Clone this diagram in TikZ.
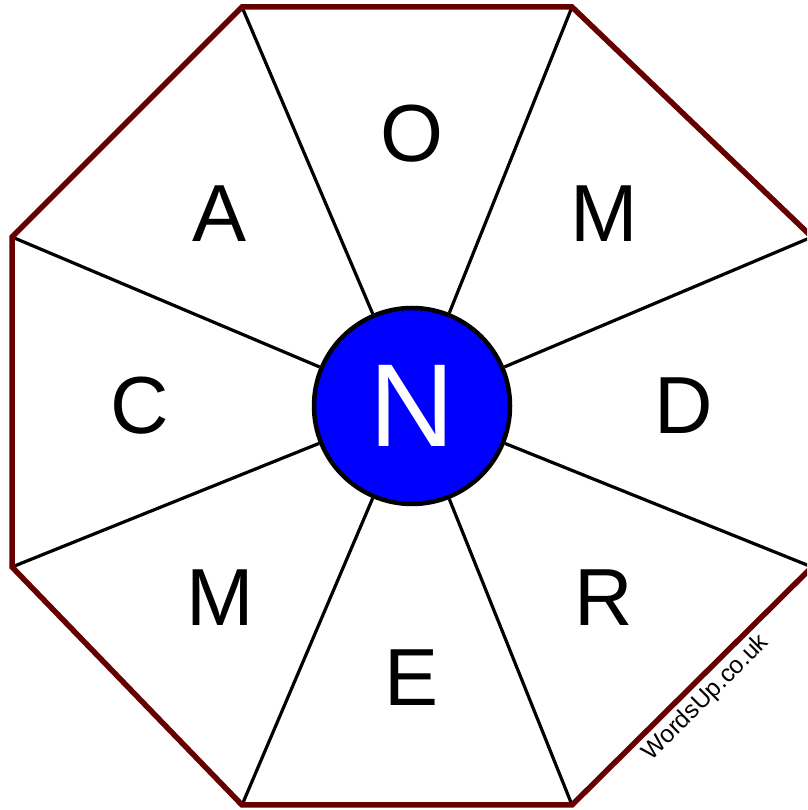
\documentclass[tikz,border=0pt]{standalone}
\usepackage{fontspec}
\setmainfont{Liberation Sans}
\usepackage{xcolor}
\definecolor{rimred}{HTML}{660000}

\begin{document}
\begin{tikzpicture}[x=1pt, y=1pt,
letter/.style={inner sep=0pt, font=\fontsize{81}{81}\selectfont},
hub/.style={circle, draw=black, line width=4.5pt, fill=blue, text=white, minimum size=196pt, inner sep=0pt, font=\fontsize{118}{118}\selectfont},
spoke/.style={black, line width=3.2pt},
rim/.style={rimred, line width=5.5pt, line join=miter}]
\useasboundingbox (0,0) rectangle (807,810);
\clip (0,0) rectangle (807,810);
% corners of the octagon
\coordinate (v1) at (242,803);
\coordinate (v2) at (572,803);
\coordinate (v3) at (812,573);
\coordinate (v4) at (812,243);
\coordinate (v5) at (572,5);
\coordinate (v6) at (242,5);
\coordinate (v7) at (12,243);
\coordinate (v8) at (12,573);
\node[hub] (hub) at (412,404) {N};
\draw[spoke] (hub) -- (v1);
\draw[spoke] (hub) -- (v2);
\draw[spoke] (hub) -- (v3);
\draw[spoke] (hub) -- (v4);
\draw[spoke] (hub) -- (v5);
\draw[spoke] (hub) -- (v6);
\draw[spoke] (hub) -- (v7);
\draw[spoke] (hub) -- (v8);
\draw[rim] (v1) -- (v2) -- (v3) -- (v4) -- (v5) -- (v6) -- (v7) -- (v8) -- cycle;
% outer letters
\node[letter] (lo) at (412,676) {O};
\node[letter] (lm1) at (604,596) {M};
\node[letter] (ld) at (684,404) {D};
\node[letter] (lr) at (604,212) {R};
\node[letter] (le) at (412,132) {E};
\node[letter] (lm2) at (220,212) {M};
\node[letter] (lc) at (140,404) {C};
\node[letter] (la) at (220,596) {A};
\node[rotate=45, inner sep=0pt, font=\fontsize{24.5}{24.5}\selectfont] (mark) at (706,112) {WordsUp.co.uk};
\end{tikzpicture}
\end{document}
